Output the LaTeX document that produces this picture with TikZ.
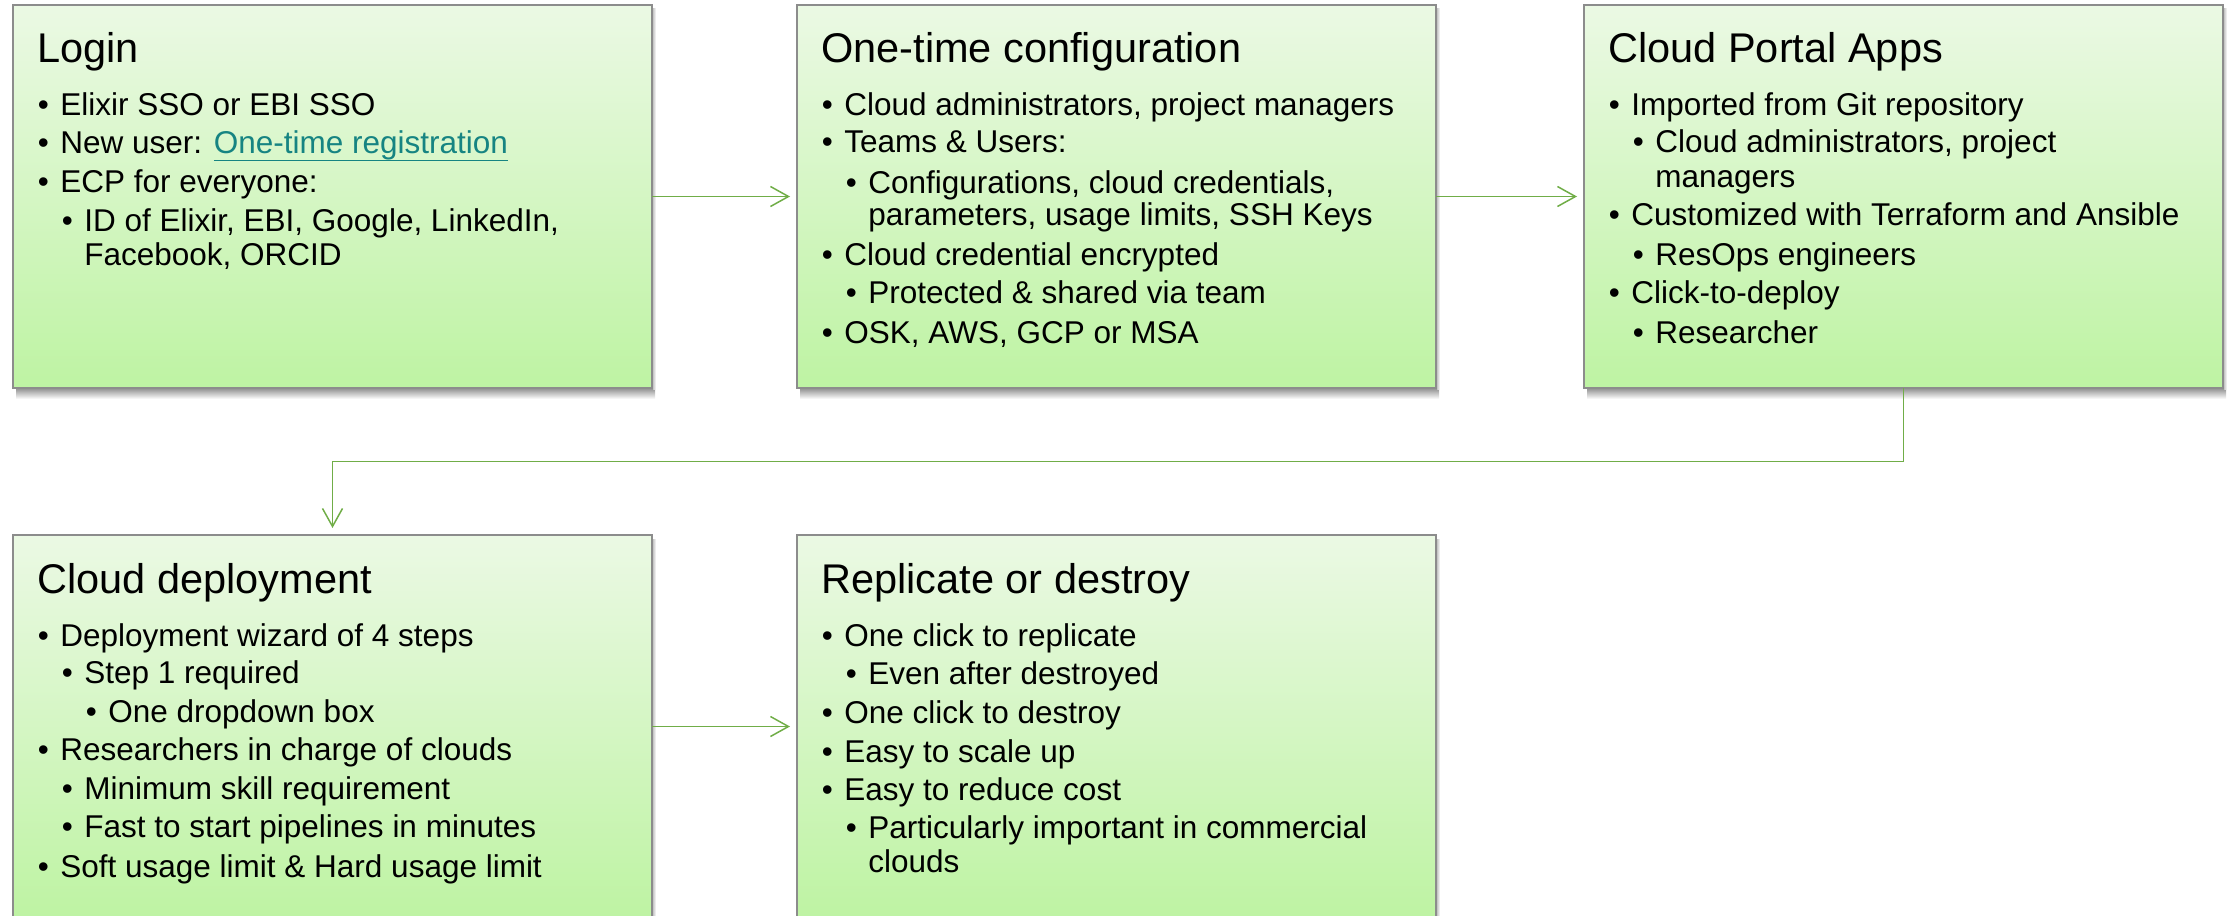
\documentclass[tikz,border=0pt]{standalone}
\usepackage{fontspec}
\setmainfont{Liberation Sans}
\usetikzlibrary{calc,arrows.meta}
\definecolor{conngreen}{RGB}{112,173,71}
\definecolor{boxtop}{RGB}{235,249,228}
\definecolor{boxbot}{RGB}{190,243,163}
\definecolor{boxline}{RGB}{140,140,140}
\definecolor{linkteal}{RGB}{22,132,130}
\newsavebox\ulinkbox
\newcommand\ulink[1]{\sbox\ulinkbox{#1}\rlap{\rule[-3.6pt]{\wd\ulinkbox}{0.7pt}}\usebox\ulinkbox}
\newcommand\boxttl[2]{\node[ttl] (#1-title) at ($(#1.north west)+(24,58)$) {#2};}
\newcommand\bitem[4]{%
  \node[body] (#1-b#3) at ($(#1.north west)+({0.5+24*#2},#3)$) {•};%
  \node[body] (#1-t#3) at ($(#1.north west)+({23+24*#2},#3)$) {#4};}
\newcommand\bcont[4]{\node[body] (#1-t#3) at ($(#1.north west)+({23+24*#2},#3)$) {#4};}
\begin{document}
\begin{tikzpicture}[x=0.5pt,y=-0.5pt,
  panel/.style={rectangle, draw=boxline, line width=0.7pt, top color=boxtop, bottom color=boxbot,
    anchor=north west, minimum width=319.5pt, minimum height=191.5pt, inner sep=0pt, outer sep=0pt},
  ttl/.style={anchor=base west, inner sep=0pt, font=\fontsize{20.75}{24}\selectfont},
  body/.style={anchor=base west, inner sep=0pt, font=\fontsize{15.75}{18}\selectfont},
  conn/.style={draw=conngreen, line width=0.75pt, -{Straight Barb[length=9pt,width=10pt]}, shorten >=3.5pt},
  shadowb/.style={top color=black!40, bottom color=white},
  shadowr/.style={left color=black!22, right color=white}]
\useasboundingbox (0,0) rectangle (2231,915);
\clip (0,0) rectangle (2231,915);

% boxes
\node[panel] (login)  at (13,5) {};
\node[panel] (config) at (797,5) {};
\node[panel] (apps)   at (1584,5) {};
\node[panel] (deploy) at (13,535) {};
\node[panel] (repl)   at (797,535) {};

% shadows
\foreach \b in {login,config,apps}{
  \shade[shadowb] ($(\b.south west)+(3,1)$) rectangle ($(\b.south east)+(3,11)$);
  \shade[shadowr] ($(\b.north east)+(1,4)$) rectangle ($(\b.south east)+(4,1)$);
}
\foreach \b in {deploy,repl}{
  \shade[shadowr] ($(\b.north east)+(1,4)$) rectangle ($(\b.south east)+(4,1)$);
}

% connectors
\draw[conn] (login.east) -- (config.west);
\draw[conn] (config.east) -- (apps.west);
\coordinate (bend) at ($(apps.south)!0.5!(deploy.north)$);
\draw[conn] (apps.south) |- (bend) -| (deploy.north);
\draw[conn] (deploy.east) -- (repl.west);

% Login
\boxttl{login}{Login}
\bitem{login}{1}{111}{Elixir SSO or EBI SSO}
\bitem{login}{1}{149}{New user: \textcolor{linkteal}{\ulink{One-time registration}}}
\bitem{login}{1}{187}{ECP for everyone:}
\bitem{login}{2}{226}{ID of Elixir, EBI, Google, LinkedIn,}
\bcont{login}{2}{260}{Facebook, ORCID}

% One-time configuration
\boxttl{config}{One-time configuration}
\bitem{config}{1}{111}{Cloud administrators, project managers}
\bitem{config}{1}{148}{Teams \& Users:}
\bitem{config}{2}{188}{Configurations, cloud credentials,}
\bcont{config}{2}{220}{parameters, usage limits, SSH Keys}
\bitem{config}{1}{260}{Cloud credential encrypted}
\bitem{config}{2}{298}{Protected \& shared via team}
\bitem{config}{1}{338}{OSK, AWS, GCP or MSA}

% Cloud Portal Apps
\boxttl{apps}{Cloud Portal Apps}
\bitem{apps}{1}{111}{Imported from Git repository}
\bitem{apps}{2}{148}{Cloud administrators, project}
\bcont{apps}{2}{182}{managers}
\bitem{apps}{1}{220}{Customized with Terraform and Ansible}
\bitem{apps}{2}{260}{ResOps engineers}
\bitem{apps}{1}{298}{Click-to-deploy}
\bitem{apps}{2}{338}{Researcher}

% Cloud deployment
\boxttl{deploy}{Cloud deployment}
\bitem{deploy}{1}{111}{Deployment wizard of 4 steps}
\bitem{deploy}{2}{148}{Step 1 required}
\bitem{deploy}{3}{187}{One dropdown box}
\bitem{deploy}{1}{225}{Researchers in charge of clouds}
\bitem{deploy}{2}{264}{Minimum skill requirement}
\bitem{deploy}{2}{302}{Fast to start pipelines in minutes}
\bitem{deploy}{1}{342}{Soft usage limit \& Hard usage limit}

% Replicate or destroy
\boxttl{repl}{Replicate or destroy}
\bitem{repl}{1}{111}{One click to replicate}
\bitem{repl}{2}{149}{Even after destroyed}
\bitem{repl}{1}{188}{One click to destroy}
\bitem{repl}{1}{227}{Easy to scale up}
\bitem{repl}{1}{265}{Easy to reduce cost}
\bitem{repl}{2}{303}{Particularly important in commercial}
\bcont{repl}{2}{337}{clouds}
\end{tikzpicture}
\end{document}
